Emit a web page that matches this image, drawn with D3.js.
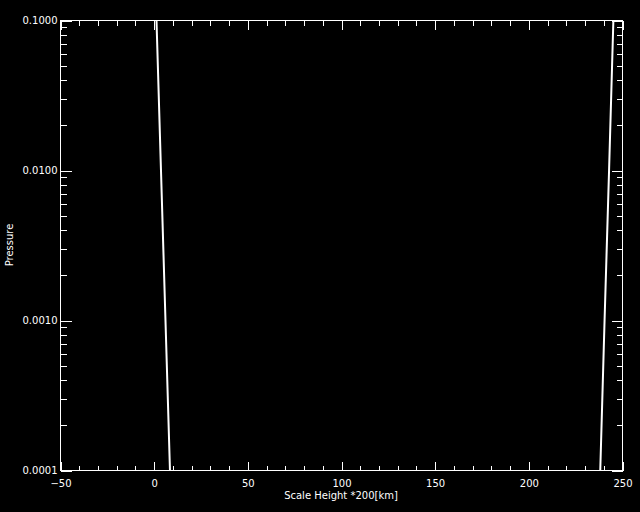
<!DOCTYPE html>
<html>
<head>
<meta charset="utf-8">
<script src="https://cdn.jsdelivr.net/npm/d3@7"></script>
<style>
  html, body { margin: 0; padding: 0; background: #000; }
  svg { display: block; }
  text { font-family: "DejaVu Sans", sans-serif; fill: #fff; }
</style>
</head>
<body>
<div id="chart"></div>
<script>
// data
const pressure = [0.1, 0.01, 0.001, 0.0001];
const heightLeft = [1.5, 3.9, 6.3, 8.7];
const heightRight = [245.4, 243.1, 240.7, 238.4];

const xMajor = [-50, 0, 50, 100, 150, 200, 250];
const yMajor = [0.1, 0.01, 0.001, 0.0001];
const yLabels = ['0.1000', '0.0100', '0.0010', '0.0001'];

const width = 640, height = 512;
const margin = {top: 20, right: 18, bottom: 41, left: 60};

const svg = d3.select('#chart').append('svg')
    .attr('width', width)
    .attr('height', height);

svg.append('rect')
    .attr('width', width)
    .attr('height', height)
    .attr('fill', '#000');

const x = d3.scaleLinear()
    .domain([-50, 250])
    .range([margin.left, width - margin.right]);

const y = d3.scaleLog()
    .domain([0.0001, 0.1])
    .range([height - margin.bottom - 1, margin.top]);

// minor ticks
const xMinor = d3.range(-50, 251, 10).filter(v => v % 50 !== 0);
const yMinor = [];
[0.0001, 0.001, 0.01].forEach(d => {
    for (let k = 2; k <= 9; k++) yMinor.push(d * k);
});

const g = svg.append('g').attr('transform', 'translate(0.5,0.5)');

function styleAxis(sel) {
    sel.select('.domain').remove();
    sel.selectAll('line').attr('stroke', '#fff').attr('shape-rendering', 'crispEdges');
    sel.selectAll('text').attr('fill', '#fff').style('font-size', '10px');
}

const x0 = x.range()[0], x1 = x.range()[1];
const y0 = y.range()[0], y1 = y.range()[1];

// bottom axis
g.append('g')
    .attr('transform', `translate(0,${y0})`)
    .call(d3.axisBottom(x).tickValues(xMajor).tickSize(-9).tickPadding(9).tickFormat(d3.format('d')))
    .call(styleAxis)
    .call(s => s.selectAll('text').attr('font-family', null));
g.append('g')
    .attr('transform', `translate(0,${y0})`)
    .call(d3.axisBottom(x).tickValues(xMinor).tickSize(-5).tickFormat(''))
    .call(styleAxis);

// top axis
g.append('g')
    .attr('transform', `translate(0,${y1})`)
    .call(d3.axisTop(x).tickValues(xMajor).tickSize(-9).tickFormat(''))
    .call(styleAxis);
g.append('g')
    .attr('transform', `translate(0,${y1})`)
    .call(d3.axisTop(x).tickValues(xMinor).tickSize(-5).tickFormat(''))
    .call(styleAxis);

// left axis
g.append('g')
    .attr('transform', `translate(${x0},0)`)
    .call(d3.axisLeft(y).tickValues(yMajor).tickSize(-11).tickPadding(3)
        .tickFormat((d, i) => yLabels[i]))
    .call(styleAxis);
g.append('g')
    .attr('transform', `translate(${x0},0)`)
    .call(d3.axisLeft(y).tickValues(yMinor).tickSize(-6).tickFormat(''))
    .call(styleAxis);

// right axis
g.append('g')
    .attr('transform', `translate(${x1},0)`)
    .call(d3.axisRight(y).tickValues(yMajor).tickSize(-11).tickFormat(''))
    .call(styleAxis);
g.append('g')
    .attr('transform', `translate(${x1},0)`)
    .call(d3.axisRight(y).tickValues(yMinor).tickSize(-6).tickFormat(''))
    .call(styleAxis);

// frame
g.append('rect')
    .attr('x', x0)
    .attr('y', y1)
    .attr('width', x1 - x0)
    .attr('height', y0 - y1)
    .attr('fill', 'none')
    .attr('stroke', '#fff')
    .attr('shape-rendering', 'crispEdges');

// data lines
const line = d3.line()
    .x(d => x(d[0]))
    .y(d => y(d[1]));

[heightLeft, heightRight].forEach(series => {
    svg.append('path')
        .datum(series.map((h, i) => [h, pressure[i]]))
        .attr('d', line)
        .attr('fill', 'none')
        .attr('stroke', '#fff')
        .attr('stroke-width', 2);
});

// axis titles
svg.append('text')
    .attr('x', (x0 + x1) / 2)
    .attr('y', 499)
    .attr('text-anchor', 'middle')
    .style('font-size', '10px')
    .text('Scale Height *200[km]');

svg.append('text')
    .attr('transform', `translate(13,${(y0 + y1) / 2}) rotate(-90)`)
    .attr('text-anchor', 'middle')
    .style('font-size', '10px')
    .text('Pressure');
</script>
</body>
</html>
